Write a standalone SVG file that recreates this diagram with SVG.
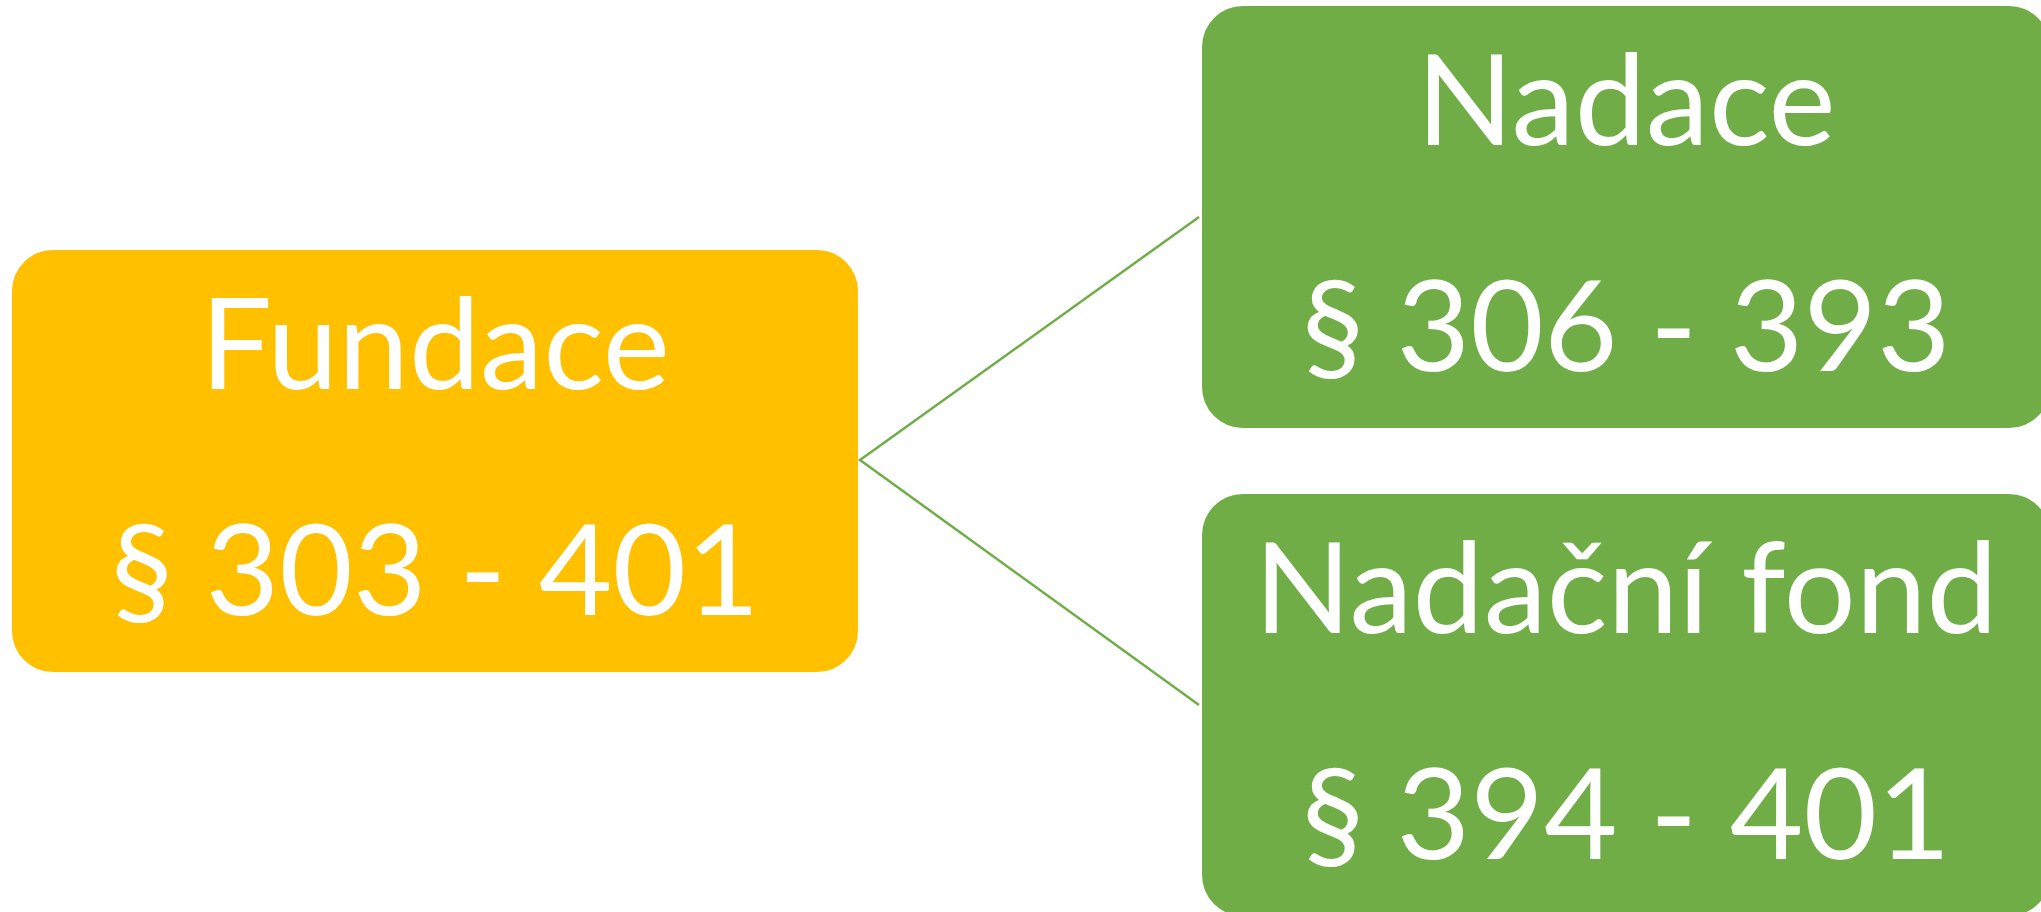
<svg xmlns="http://www.w3.org/2000/svg" width="2041" height="912" viewBox="0 0 2041 912">
<style>
.box-y{fill:#FFC000}
.box-g{fill:#70AD47}
.t{font-family:Lato,"Open Sans","Liberation Sans",sans-serif;font-size:127px;fill:#FFFFFF;text-anchor:middle}
.c{stroke:#70AD47;stroke-width:2.5;fill:none}
</style>
<rect width="2041" height="912" fill="#FFFFFF"/>
<g id="connectors">
<polyline class="c" points="1199,217 860,460 1199,705"/>
</g>
<g id="fundace">
<rect class="box-y" x="12" y="250" width="846" height="422" rx="41" ry="41"/>
<text class="t" x="435" y="389">Fundace</text>
<text class="t" x="435" y="615">§ 303 - 401</text>
</g>
<g id="nadace">
<rect class="box-g" x="1202" y="6" width="848" height="422" rx="41" ry="41"/>
<text class="t" x="1626" y="145">Nadace</text>
<text class="t" x="1626" y="371">§ 306 - 393</text>
</g>
<g id="nadacni-fond">
<rect class="box-g" x="1202" y="494" width="848" height="422" rx="41" ry="41"/>
<text class="t" x="1626" y="633">Nadační fond</text>
<text class="t" x="1626" y="859">§ 394 - 401</text>
</g>
</svg>
